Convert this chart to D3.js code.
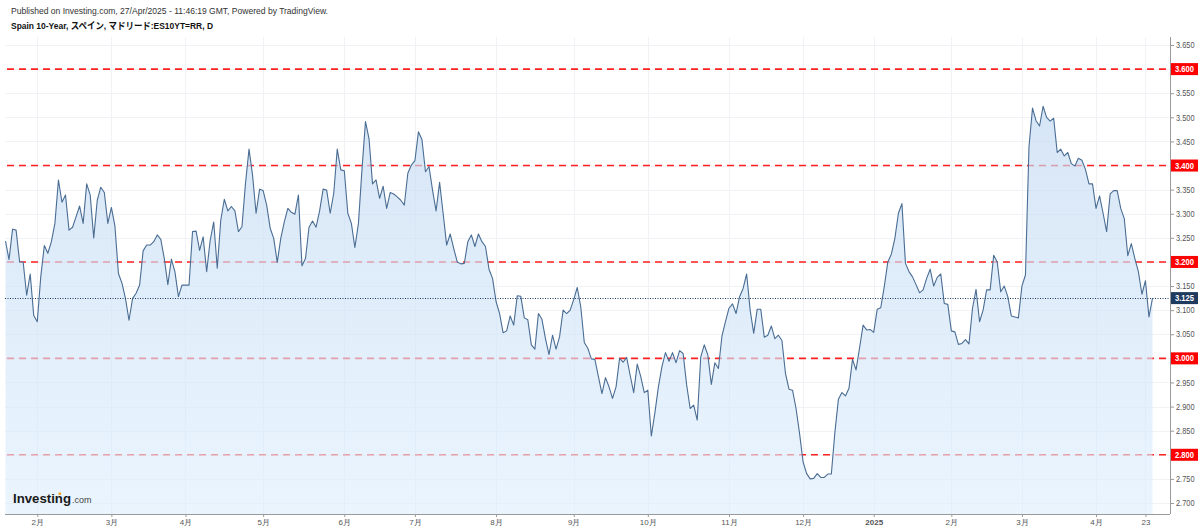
<!DOCTYPE html>
<html>
<head>
<meta charset="utf-8">
<script src="https://cdn.jsdelivr.net/npm/d3@7"></script>
<style>
  body { margin: 0; background: #fff; }
  svg { display: block; font-family: "Liberation Sans", Arial, "Noto Sans CJK JP", sans-serif; }
</style>
</head>
<body>
<svg id="chart" width="1200" height="530"></svg>
<script>
// ---------------------------------------------------------------------------
// Data: Spain 10-year yield, daily closes, one small array per month
// (trading days only)
// ---------------------------------------------------------------------------
const jan24 = [3.243, 3.205, 3.268, 3.266, 3.200, 3.200, 3.131, 3.175, 3.089];
const feb24 = [3.076, 3.170, 3.234, 3.218, 3.242, 3.280, 3.370, 3.324, 3.339, 3.266, 3.272,
               3.294, 3.316, 3.280, 3.362, 3.339, 3.250, 3.328, 3.355, 3.344, 3.280];
const mar24 = [3.313, 3.275, 3.176, 3.156, 3.124, 3.079, 3.124, 3.135, 3.152, 3.223, 3.235,
               3.235, 3.242, 3.256, 3.247, 3.207, 3.153, 3.206, 3.180, 3.128, 3.152];
const apr24 = [3.152, 3.152, 3.263, 3.264, 3.224, 3.252, 3.180, 3.245, 3.283, 3.187, 3.287,
               3.330, 3.306, 3.315, 3.306, 3.263, 3.273, 3.363, 3.434, 3.380, 3.301, 3.351];
const may24 = [3.348, 3.318, 3.270, 3.249, 3.199, 3.249, 3.283, 3.311, 3.303, 3.299, 3.339,
               3.192, 3.207, 3.272, 3.285, 3.272, 3.306, 3.351, 3.349, 3.301, 3.342, 3.434, 3.391];
const jun24 = [3.389, 3.301, 3.280, 3.230, 3.280, 3.391, 3.491, 3.456, 3.362, 3.370, 3.332,
               3.357, 3.311, 3.344, 3.341, 3.335, 3.328, 3.318, 3.384, 3.401];
const jul24 = [3.410, 3.470, 3.454, 3.387, 3.398, 3.349, 3.306, 3.365, 3.301, 3.235, 3.258,
               3.228, 3.200, 3.196, 3.197, 3.242, 3.256, 3.232, 3.258, 3.242, 3.232, 3.185, 3.166];
const aug24 = [3.118, 3.093, 3.053, 3.057, 3.088, 3.069, 3.130, 3.129, 3.084, 3.080, 3.028,
               3.019, 3.093, 3.081, 3.041, 3.008, 3.048, 3.019, 3.045, 3.100, 3.093, 3.100];
const sep24 = [3.122, 3.147, 3.107, 3.033, 3.021, 2.999, 2.998, 2.962, 2.927, 2.960, 2.941,
               2.917, 2.941, 3.000, 2.992, 3.002, 2.965, 2.929, 2.988, 2.962, 2.929];
const oct24 = [2.934, 2.839, 2.887, 2.941, 2.983, 3.012, 2.994, 3.012, 2.991, 3.016, 3.010,
               2.945, 2.896, 2.903, 2.872, 3.003, 3.028, 3.007, 2.946, 2.991, 2.979, 3.046, 3.076];
const nov24 = [3.104, 3.113, 3.093, 3.128, 3.145, 3.175, 3.100, 3.052, 3.102, 3.102, 3.044,
               3.048, 3.067, 3.041, 3.048, 3.037, 2.969, 2.936, 2.934, 2.896, 2.844];
const dec24 = [2.785, 2.761, 2.750, 2.751, 2.761, 2.753, 2.753, 2.760, 2.760, 2.846, 2.915,
               2.929, 2.922, 2.938, 2.998, 2.976, 3.022, 3.069, 3.059, 3.060];
const jan25 = [3.054, 3.102, 3.105, 3.149, 3.200, 3.216, 3.249, 3.301, 3.321, 3.197, 3.180,
               3.169, 3.153, 3.136, 3.142, 3.166, 3.185, 3.150, 3.168, 3.175, 3.114, 3.112];
const feb25 = [3.057, 3.055, 3.029, 3.031, 3.039, 3.030, 3.104, 3.143, 3.076, 3.100, 3.142,
               3.142, 3.214, 3.200, 3.138, 3.150, 3.128, 3.088, 3.086, 3.084];
const mar25 = [3.150, 3.173, 3.439, 3.519, 3.493, 3.482, 3.523, 3.500, 3.492, 3.498, 3.427,
               3.434, 3.420, 3.427, 3.404, 3.399, 3.415, 3.411, 3.392, 3.362, 3.362];
const apr25 = [3.311, 3.337, 3.301, 3.263, 3.341, 3.348, 3.348, 3.311, 3.290, 3.213, 3.238,
               3.207, 3.180, 3.133, 3.161, 3.086, 3.125];

const monthKeys = ["2024-01", "2024-02", "2024-03", "2024-04", "2024-05", "2024-06", "2024-07",
                   "2024-08", "2024-09", "2024-10", "2024-11", "2024-12", "2025-01", "2025-02",
                   "2025-03", "2025-04"];
const monthValues = [jan24, feb24, mar24, apr24, may24, jun24, jul24, aug24, sep24, oct24,
                     nov24, dec24, jan25, feb25, mar25, apr25];

const firstDay = "2024-01-19";
const lastDay = "2025-04-25";
const holidays = ["2024-12-25", "2024-12-26", "2025-01-01", "2025-04-18", "2025-04-21"];

// x axis ticks (first trading day of each month) and their labels
const xTickDates = ["2024-02-01", "2024-03-01", "2024-04-01", "2024-05-01", "2024-06-03",
                    "2024-07-01", "2024-08-01", "2024-09-02", "2024-10-01", "2024-11-01",
                    "2024-12-02", "2025-01-02", "2025-02-03", "2025-03-03", "2025-04-01",
                    "2025-04-23"];
const xTickLabels = ["2月", "3月", "4月", "5月", "6月", "7月", "8月", "9月", "10月", "11月",
                     "12月", "2025", "2月", "3月", "4月", "23"];

const yTicks = [2.70, 2.75, 2.80, 2.85, 2.90, 2.95, 3.00, 3.05, 3.10, 3.15, 3.20,
                3.25, 3.30, 3.35, 3.40, 3.45, 3.50, 3.55, 3.60, 3.65];
const levels = [3.6, 3.4, 3.2, 3.0, 2.8];
const lastValue = 3.125;

// ---------------------------------------------------------------------------
// Trading day index (x axis is bar based, weekends / holidays skipped)
// ---------------------------------------------------------------------------
const parseDay = d3.utcParse("%Y-%m-%d");
const fmtDay = d3.utcFormat("%Y-%m-%d");

function tradingDays(a, b) {
    return d3.utcDay.range(parseDay(a), d3.utcDay.offset(parseDay(b), 1))
        .filter(d => d.getUTCDay() > 0 && d.getUTCDay() < 6 && !holidays.includes(fmtDay(d)))
        .map(fmtDay);
}

const allDays = tradingDays(firstDay, lastDay);
const dayIndex = new Map(allDays.map((d, i) => [d, i]));

const points = [];
monthKeys.forEach((key, m) => {
    const days = allDays.filter(d => d.startsWith(key));
    monthValues[m].forEach((v, k) => {
        if (k < days.length) points.push({ i: dayIndex.get(days[k]), v: v });
    });
});

// ---------------------------------------------------------------------------
// Layout
// ---------------------------------------------------------------------------
const plotLeft = 5, plotRight = 1170, plotTop = 37, plotBottom = 514;

const xScale = d3.scaleLinear()
    .domain([0, allDays.length - 1])
    .range([5.5, 1152.5]);

const yScale = d3.scaleLinear()
    .domain([2.7, 3.65])
    .range([503, 45]);

const svg = d3.select("#chart");

// gradient for the area
const defs = svg.append("defs");
const grad = defs.append("linearGradient")
    .attr("id", "areaFill")
    .attr("gradientUnits", "userSpaceOnUse")
    .attr("x1", 0).attr("x2", 0)
    .attr("y1", yScale(3.52)).attr("y2", plotBottom);
grad.append("stop").attr("offset", 0).attr("stop-color", "#c4daf2").attr("stop-opacity", 0.68);
grad.append("stop").attr("offset", 1).attr("stop-color", "#ddeefd").attr("stop-opacity", 0.62);

// grid
const grid = svg.append("g");
grid.selectAll("line.h")
    .data(yTicks)
    .enter().append("line")
        .attr("x1", plotLeft).attr("x2", plotRight)
        .attr("y1", d => Math.round(yScale(d)) + 0.5)
        .attr("y2", d => Math.round(yScale(d)) + 0.5)
        .attr("stroke", "#f0f2f5");
grid.selectAll("line.v")
    .data(xTickDates)
    .enter().append("line")
        .attr("x1", d => Math.round(xScale(dayIndex.get(d))) + 0.5)
        .attr("x2", d => Math.round(xScale(dayIndex.get(d))) + 0.5)
        .attr("y1", plotTop).attr("y2", plotBottom)
        .attr("stroke", "#f0f2f5");

// red dashed levels (drawn under the translucent area)
svg.append("g").selectAll("line")
    .data(levels)
    .enter().append("line")
        .attr("x1", plotLeft + 2).attr("x2", plotRight)
        .attr("y1", d => yScale(d)).attr("y2", d => yScale(d))
        .attr("stroke", "#ff2020")
        .attr("stroke-width", 1.6)
        .attr("stroke-dasharray", "7,5");

// area + line
const area = d3.area()
    .x(d => xScale(d.i))
    .y0(plotBottom)
    .y1(d => yScale(d.v));

const line = d3.line()
    .x(d => xScale(d.i))
    .y(d => yScale(d.v));

svg.append("path")
    .datum(points)
    .attr("d", area)
    .attr("fill", "url(#areaFill)");

svg.append("path")
    .datum(points)
    .attr("d", line)
    .attr("fill", "none")
    .attr("stroke", "#4a6d93")
    .attr("stroke-width", 1.1)
    .attr("stroke-linejoin", "round");

// current value dotted line
svg.append("line")
    .attr("x1", plotLeft).attr("x2", plotRight)
    .attr("y1", Math.round(yScale(lastValue)) + 0.5)
    .attr("y2", Math.round(yScale(lastValue)) + 0.5)
    .attr("stroke", "#1e3a5f")
    .attr("stroke-dasharray", "1,1.5");

// x axis
const xAxis = svg.append("g")
    .attr("transform", "translate(0," + plotBottom + ")")
    .call(d3.axisBottom(xScale)
        .tickValues(xTickDates.map(d => dayIndex.get(d)))
        .tickFormat((d, i) => xTickLabels[i])
        .tickSize(3)
        .tickPadding(2)
        .tickSizeOuter(0));
xAxis.select(".domain").attr("d", "M" + plotLeft + ",0.5H" + plotRight).attr("stroke", "#9a9a9a");
xAxis.selectAll(".tick line").attr("stroke", "#9a9a9a");
xAxis.selectAll(".tick text")
    .attr("fill", "#555")
    .attr("font-size", "8px")
    .attr("font-weight", (d, i) => xTickLabels[i] === "2025" ? "bold" : "normal");

// y axis on the right
const yAxis = svg.append("g")
    .attr("transform", "translate(" + plotRight + ",0)")
    .call(d3.axisRight(yScale)
        .tickValues(yTicks)
        .tickFormat(d3.format(".3f"))
        .tickSize(4)
        .tickPadding(2)
        .tickSizeOuter(0));
yAxis.select(".domain").attr("d", "M0.5," + plotTop + "V" + plotBottom).attr("stroke", "#9a9a9a");
yAxis.selectAll(".tick line").attr("stroke", "#9a9a9a");
yAxis.selectAll(".tick text")
    .attr("fill", "#555")
    .attr("font-size", "8.5px")
    .attr("textLength", 18.5)
    .attr("lengthAdjust", "spacingAndGlyphs");

// level labels on the axis
const levelTags = svg.append("g").selectAll("g")
    .data(levels)
    .enter().append("g")
        .attr("transform", d => "translate(" + (plotRight + 1) + "," + yScale(d) + ")");
levelTags.append("rect")
    .attr("x", 0).attr("y", -6).attr("width", 27).attr("height", 12)
    .attr("fill", "#ff0000");
levelTags.append("text")
    .attr("x", 4).attr("y", 3)
    .attr("fill", "#fff")
    .attr("font-size", "8.5px")
    .attr("font-weight", "bold")
    .attr("textLength", 19)
    .attr("lengthAdjust", "spacingAndGlyphs")
    .text(d => d3.format(".3f")(d));

// last value tag
const lastTag = svg.append("g")
    .attr("transform", "translate(" + (plotRight + 1) + "," + yScale(lastValue) + ")");
lastTag.append("rect")
    .attr("x", 0).attr("y", -6).attr("width", 27).attr("height", 12)
    .attr("fill", "#1e3a5f");
lastTag.append("text")
    .attr("x", 4).attr("y", 3)
    .attr("fill", "#fff")
    .attr("font-size", "8.5px")
    .attr("font-weight", "bold")
    .attr("textLength", 19)
    .attr("lengthAdjust", "spacingAndGlyphs")
    .text(d3.format(".3f")(lastValue));

// header
svg.append("text")
    .attr("x", 11).attr("y", 14)
    .attr("font-size", "9.5px")
    .attr("fill", "#333")
    .attr("textLength", 317)
    .attr("lengthAdjust", "spacingAndGlyphs")
    .text("Published on Investing.com, 27/Apr/2025 - 11:46:19 GMT, Powered by TradingView.");

svg.append("text")
    .attr("x", 11).attr("y", 29)
    .attr("font-size", "9.5px")
    .attr("font-weight", "bold")
    .attr("fill", "#111")
    .attr("textLength", 202)
    .attr("lengthAdjust", "spacingAndGlyphs")
    .text("Spain 10-Year, スペイン, マドリード:ES10YT=RR, D");

// logo
const logo = svg.append("g");
logo.append("text")
    .attr("x", 13).attr("y", 503)
    .attr("font-size", "13px")
    .attr("font-weight", "bold")
    .attr("fill", "#1a1a1a")
    .attr("textLength", 58)
    .attr("lengthAdjust", "spacingAndGlyphs")
    .text("Investing");
logo.append("rect")
    .attr("x", 58.5).attr("y", 492.5).attr("width", 2.5).attr("height", 2.5)
    .attr("fill", "#f5a623");
logo.append("text")
    .attr("x", 72).attr("y", 503)
    .attr("font-size", "9px")
    .attr("fill", "#444")
    .text(".com");
</script>
</body>
</html>
